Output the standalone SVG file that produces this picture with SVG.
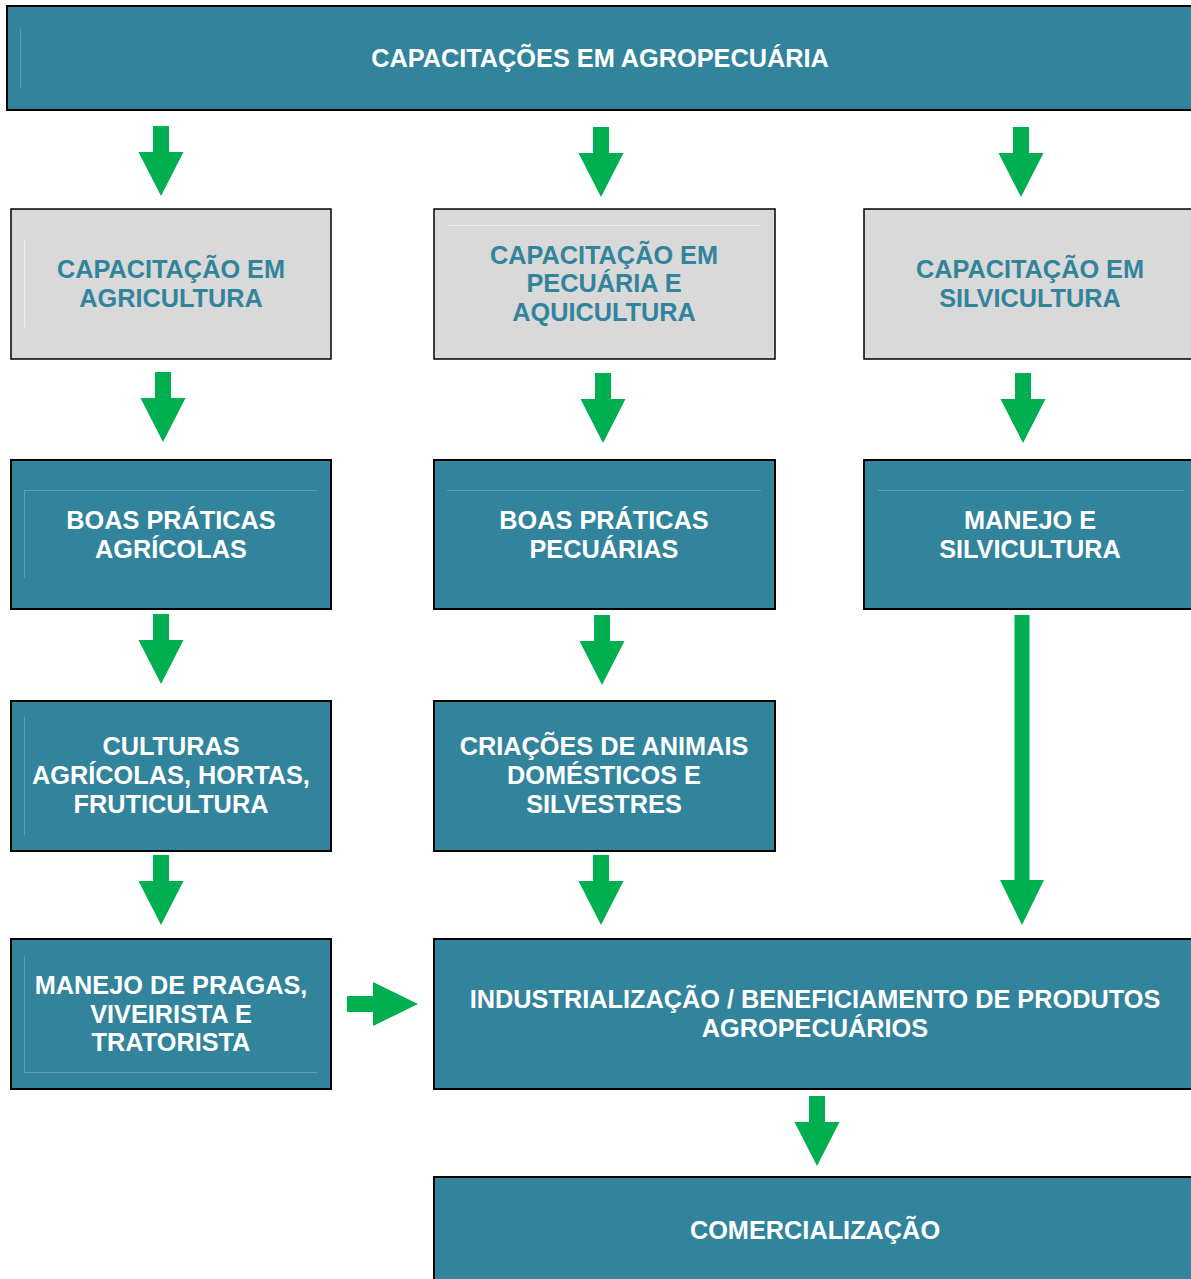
<svg xmlns="http://www.w3.org/2000/svg" width="1191" height="1279" viewBox="0 0 1191 1279">
<defs>
<style>
.teal{fill:#31849B;stroke:#000;stroke-width:2}
.gray{fill:#D9D9D9;stroke:#000;stroke-width:1.5}
.il{stroke:#5E9FB2;stroke-width:1;fill:none}
.ig{stroke:#EDEDED;stroke-width:1.2;fill:none}
.t{font-family:"Liberation Sans",Arial,sans-serif;font-weight:bold;font-size:25.3px;text-anchor:middle;fill:#fff}
.tg{fill:#31849B}
.arr{fill:#00B050}
</style>
<path id="dn" class="arr" d="M-8,0 H8 V26 H22.5 L0,70 L-22.5,26 H-8 Z"/>
</defs>
<rect width="1191" height="1279" fill="#fff"/>

<g id="title">
<rect class="teal" x="7" y="6" width="1192" height="104"/>
<line class="il" x1="20.5" y1="29" x2="20.5" y2="88"/>
<text class="t" x="600" y="67">CAPACITAÇÕES EM AGROPECUÁRIA</text>
</g>

<g id="cap-agricultura">
<rect class="gray" x="11" y="209" width="320" height="150"/>
<line class="ig" x1="24.5" y1="240" x2="24.5" y2="327"/>
<text class="t tg" x="171" y="278">CAPACITAÇÃO EM</text>
<text class="t tg" x="171" y="307">AGRICULTURA</text>
</g>

<g id="cap-pecuaria">
<rect class="gray" x="434" y="209" width="341" height="150"/>
<line class="ig" x1="447" y1="225.5" x2="761" y2="225.5"/>
<text class="t tg" x="604" y="264">CAPACITAÇÃO EM</text>
<text class="t tg" x="604" y="292">PECUÁRIA E</text>
<text class="t tg" x="604" y="321">AQUICULTURA</text>
</g>

<g id="cap-silvicultura">
<rect class="gray" x="864" y="209" width="335" height="150"/>
<text class="t tg" x="1030" y="278">CAPACITAÇÃO EM</text>
<text class="t tg" x="1030" y="307">SILVICULTURA</text>
</g>

<g id="boas-agricolas">
<rect class="teal" x="11" y="460" width="320" height="149"/>
<path class="il" d="M24.5,578 V490.5 H317"/>
<text class="t" x="171" y="529">BOAS PRÁTICAS</text>
<text class="t" x="171" y="558">AGRÍCOLAS</text>
</g>

<g id="boas-pecuarias">
<rect class="teal" x="434" y="460" width="341" height="149"/>
<line class="il" x1="447" y1="490.5" x2="761" y2="490.5"/>
<text class="t" x="604" y="529">BOAS PRÁTICAS</text>
<text class="t" x="604" y="558">PECUÁRIAS</text>
</g>

<g id="manejo-silvicultura">
<rect class="teal" x="864" y="460" width="335" height="149"/>
<line class="il" x1="878" y1="490.5" x2="1184" y2="490.5"/>
<text class="t" x="1030" y="529">MANEJO E</text>
<text class="t" x="1030" y="558">SILVICULTURA</text>
</g>

<g id="culturas">
<rect class="teal" x="11" y="701" width="320" height="150"/>
<line class="il" x1="24.5" y1="717" x2="24.5" y2="835"/>
<text class="t" x="171" y="755">CULTURAS</text>
<text class="t" x="171" y="784">AGRÍCOLAS, HORTAS,</text>
<text class="t" x="171" y="813">FRUTICULTURA</text>
</g>

<g id="criacoes">
<rect class="teal" x="434" y="701" width="341" height="150"/>
<text class="t" x="604" y="755">CRIAÇÕES DE ANIMAIS</text>
<text class="t" x="604" y="784">DOMÉSTICOS E</text>
<text class="t" x="604" y="813">SILVESTRES</text>
</g>

<g id="manejo-pragas">
<rect class="teal" x="11" y="939" width="320" height="150"/>
<path class="il" d="M24.5,956 V1072.5 H317"/>
<text class="t" x="171" y="994">MANEJO DE PRAGAS,</text>
<text class="t" x="171" y="1023">VIVEIRISTA E</text>
<text class="t" x="171" y="1051">TRATORISTA</text>
</g>

<g id="industrializacao">
<rect class="teal" x="434" y="939" width="765" height="150"/>
<text class="t" x="815" y="1008">INDUSTRIALIZAÇÃO / BENEFICIAMENTO DE PRODUTOS</text>
<text class="t" x="815" y="1037">AGROPECUÁRIOS</text>
</g>

<g id="comercializacao">
<rect class="teal" x="434" y="1177" width="765" height="110"/>
<text class="t" x="815" y="1239">COMERCIALIZAÇÃO</text>
</g>

<g id="connectors">
<use href="#dn" x="161" y="126"/>
<use href="#dn" x="601" y="127"/>
<use href="#dn" x="1021" y="127"/>
<use href="#dn" x="163" y="372"/>
<use href="#dn" x="603" y="373"/>
<use href="#dn" x="1023" y="373"/>
<use href="#dn" x="161" y="614"/>
<use href="#dn" x="602" y="615"/>
<use href="#dn" x="161" y="855"/>
<use href="#dn" x="601" y="855"/>
<use href="#dn" x="817" y="1096"/>
<path class="arr" d="M1014.5,615 H1029.5 V880 H1044 L1022,925 L1000,880 H1014.5 Z"/>
<path class="arr" d="M347,996 H373 V982 L418,1004 L373,1026 V1012 H347 Z"/>
</g>
</svg>
